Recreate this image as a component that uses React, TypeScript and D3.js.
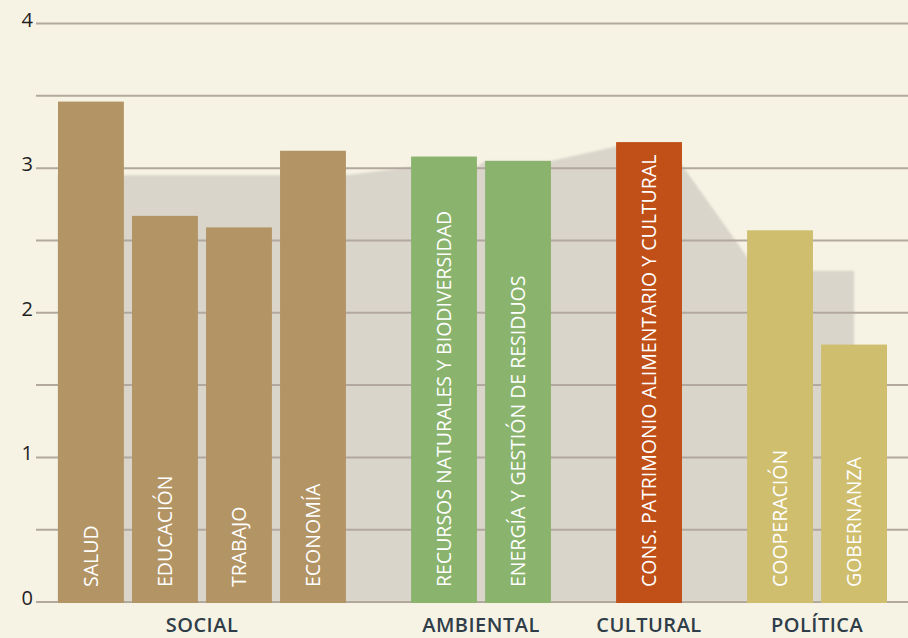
import React from "react";
import * as d3 from "d3";

const categories = [
  "SALUD",
  "EDUCACIÓN",
  "TRABAJO",
  "ECONOMÍA",
  "RECURSOS NATURALES Y BIODIVERSIDAD",
  "ENERGÍA Y GESTIÓN DE RESIDUOS",
  "CONS. PATRIMONIO ALIMENTARIO Y CULTURAL",
  "COOPERACIÓN",
  "GOBERNANZA",
];
const categoryGroup = [0, 0, 0, 0, 1, 1, 2, 3, 3];
const values = [3.46, 2.67, 2.59, 3.12, 3.08, 3.05, 3.18, 2.57, 1.78];
// background silhouette (reference level) behind each bar
const profile = [2.95, 2.95, 2.95, 2.95, 3.01, 3.05, 3.15, 2.29, 2.29];
const groups = ["SOCIAL", "AMBIENTAL", "CULTURAL", "POLÍTICA"];
const groupColors = ["#b39465", "#8ab46e", "#c05018", "#cfbe6e"];
const yTickLabels = [0, 1, 2, 3, 4];
const gridValues = [0, 0.5, 1, 1.5, 2, 2.5, 3, 3.5, 4];

const width = 908;
const height = 638;
const groupGap = 0.77; // extra slots between groups
const barFrac = 0.89;

const App = () => {
  const slots = categories.map((d, i) => i + categoryGroup[i] * groupGap);
  const lastSlot = slots[slots.length - 1] + barFrac;

  const x = d3.scaleLinear().domain([0, lastSlot]).range([58, 887]);
  const y = d3.scaleLinear().domain([0, 4]).range([602, 23.5]);
  const bw = x(barFrac) - x(0);

  // silhouette outline: flat over each bar, linked across the gaps
  const pts: [number, number][] = [];
  slots.forEach((s, i) => {
    const last = i === slots.length - 1;
    const dropNext = !last && profile[i + 1] < profile[i] - 0.3;
    const dropPrev = i > 0 && profile[i - 1] > profile[i] + 0.3;
    const xl = dropPrev ? x(s) + bw * 0.15 : x(s);
    const xr = last ? x(s) + bw / 2 : dropNext ? x(s) + bw * 0.8 : x(s) + bw;
    pts.push([xl, profile[i]]);
    pts.push([xr, profile[i]]);
  });
  const area = d3
    .area<[number, number]>()
    .x((d) => d[0])
    .y0(y(0))
    .y1((d) => y(d[1]))
    .curve(d3.curveLinear);

  const groupCenters = groups.map((g, gi) => {
    const idx = categoryGroup.map((c, i) => (c === gi ? i : -1)).filter((i) => i >= 0);
    const left = x(slots[idx[0]]);
    const right = x(slots[idx[idx.length - 1]]) + bw;
    return (left + right) / 2;
  });

  return (
    <div>
      <style>{`body{margin:0;background:#f6f2e4}`}</style>
      <svg width={width} height={height} style={{ display: "block", background: "#f6f2e4" }}>
        <defs>
          <filter id="soft" x="-5%" y="-5%" width="110%" height="110%">
            <feGaussianBlur stdDeviation="1.2" />
          </filter>
        </defs>
        <path d={area(pts) || ""} fill="#d9d5ca" filter="url(#soft)" />

        {gridValues.map((v) => (
          <line
            key={v}
            x1={36}
            x2={width}
            y1={y(v)}
            y2={y(v)}
            stroke="#b2a89d"
            strokeWidth={2}
          />
        ))}

        {yTickLabels.map((v) => (
          <text
            key={v}
            x={33}
            y={y(v) + 3}
            textAnchor="end"
            fontFamily="'Open Sans', sans-serif"
            fontSize={20}
            fill="#1e1e1e"
          >
            {v}
          </text>
        ))}

        {categories.map((c, i) => (
          <g key={c}>
            <rect
              x={x(slots[i])}
              y={y(values[i])}
              width={bw}
              height={y(0) - y(values[i]) + 1}
              fill={groupColors[categoryGroup[i]]}
            />
            <text
              transform={`translate(${x(slots[i]) + bw / 2},${y(0) - 15}) rotate(-90)`}
              dy="0.36em"
              fontFamily="'Open Sans', sans-serif"
              fontSize={19.5}
              fill="#ffffff"
            >
              {c}
            </text>
          </g>
        ))}

        {groups.map((g, gi) => (
          <text
            key={g}
            x={groupCenters[gi]}
            y={632}
            textAnchor="middle"
            fontFamily="'Open Sans', sans-serif"
            fontWeight={600}
            fontSize={20}
            letterSpacing={0.5}
            fill="#2e3d48"
          >
            {g}
          </text>
        ))}
      </svg>
    </div>
  );
};

export default App;
